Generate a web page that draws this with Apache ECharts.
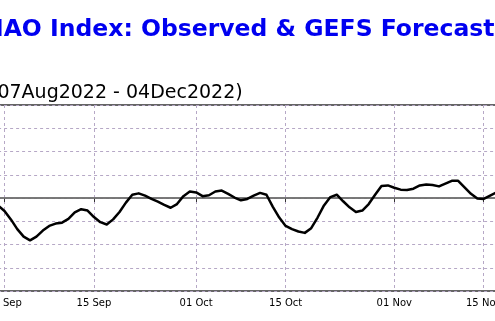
<!DOCTYPE html>
<html>
<head>
<meta charset="utf-8">
<script src="https://cdn.jsdelivr.net/npm/echarts@6/dist/echarts.min.js"></script>
<style>
  html, body { margin: 0; padding: 0; background: #fff; }
  #main { width: 495px; height: 321px; }
</style>
</head>
<body>
<div id="main"></div>
<script>
// 标题文字
var titleText = 'NAO Index: Observed & GEFS Forecast';
var subTitleText = '(07Aug2022 - 04Dec2022)';

// 日期 (31 Aug 2022 .. 17 Nov 2022, 每天一个)
var startDate = new Date(2022, 7, 31);
var dayCount = 79;
var monthNames = ['Jan','Feb','Mar','Apr','May','Jun','Jul','Aug','Sep','Oct','Nov','Dec'];
var days = [];
for (var i = 0; i < dayCount; i++) {
    var d = new Date(startDate.getFullYear(), startDate.getMonth(), startDate.getDate() + i);
    var dd = d.getDate() < 10 ? '0' + d.getDate() : '' + d.getDate();
    days.push(dd + ' ' + monthNames[d.getMonth()]);
}

// 刻度标签
var tickLabels = ['01 Sep', '15 Sep', '01 Oct', '15 Oct', '01 Nov', '15 Nov'];

// 观测的NAO指数 (每天一个值)
var naoObserved = [
    -0.16, -0.28, -0.46, -0.67, -0.83, -0.91, -0.83, -0.70, -0.60, -0.55,
    -0.53, -0.45, -0.31, -0.24, -0.27, -0.41, -0.52, -0.57, -0.46, -0.30,
    -0.10,  0.07,  0.10,  0.05, -0.02, -0.08, -0.15, -0.21, -0.13,  0.04,
     0.14,  0.12,  0.04,  0.06,  0.14,  0.16,  0.09,  0.01, -0.05, -0.02,
     0.05,  0.11,  0.07, -0.19, -0.42, -0.60, -0.67, -0.72, -0.75, -0.65,
    -0.42, -0.16,  0.02,  0.07, -0.07, -0.20, -0.30, -0.27, -0.13,  0.07,
     0.26,  0.27,  0.22,  0.18,  0.17,  0.20,  0.27,  0.29,  0.28,  0.25,
     0.31,  0.37,  0.37,  0.23,  0.09, -0.01, -0.02,  0.05,  0.12
];

// y轴范围
var yMin = -2, yMax = 2, yStep = 0.5;

function isTick(idx, val) {
    return tickLabels.indexOf(val) >= 0;
}

function draw() {
    var myChart = echarts.init(document.getElementById('main'));

    var option = {
        animation: false,
        backgroundColor: '#ffffff',
        // 标题用graphic画, 以便可以超出画布左边
        graphic: [
            {
                type: 'text',
                x: -16,
                y: 18,
                style: {
                    text: titleText,
                    font: 'bold 23.5px "DejaVu Sans"',
                    fill: '#0000f0',
                    verticalAlign: 'top',
                    textVerticalAlign: 'top'
                }
            },
            {
                type: 'text',
                x: -10,
                y: 84,
                style: {
                    text: subTitleText,
                    font: '19px "DejaVu Sans"',
                    fill: '#000000',
                    verticalAlign: 'top',
                    textVerticalAlign: 'top'
                }
            }
        ],
        grid: {
            show: true,
            left: -1.9,
            right: -1.5,
            top: 105,
            bottom: 30,
            outerBoundsMode: 'none',
            containLabel: false,
            borderColor: '#333333',
            borderWidth: 1.5,
            backgroundColor: 'transparent'
        },
        xAxis: {
            type: 'category',
            data: days,
            boundaryGap: false,
            axisLine: { show: true, lineStyle: { color: '#333333', width: 1.5 } },
            axisTick: {
                show: true,
                length: 4,
                inside: false,
                lineStyle: { color: '#333333', width: 1 },
                interval: isTick
            },
            axisLabel: {
                fontFamily: 'DejaVu Sans',
                fontSize: 10,
                color: '#000000',
                margin: 7,
                interval: isTick
            },
            splitLine: {
                show: true,
                interval: isTick,
                lineStyle: { color: '#b6a8c6', type: [3, 3], width: 1 }
            }
        },
        yAxis: {
            type: 'value',
            min: yMin,
            max: yMax,
            interval: yStep,
            axisLine: { show: false },
            axisTick: { show: false },
            axisLabel: { show: false },
            splitLine: {
                show: true,
                lineStyle: { color: '#b6a8c6', type: [3, 3], width: 1 }
            }
        },
        series: [
            {
                name: 'NAO',
                type: 'line',
                data: naoObserved,
                symbol: 'none',
                smooth: false,
                lineStyle: { color: '#000000', width: 2.5, join: 'round' },
                z: 5,
                markLine: {
                    silent: true,
                    symbol: 'none',
                    label: { show: false },
                    lineStyle: { color: '#808080', type: 'solid', width: 1.5 },
                    data: [{ yAxis: 0 }],
                    z: 3
                }
            }
        ]
    };

    myChart.setOption(option);
}

draw();
</script>
</body>
</html>
